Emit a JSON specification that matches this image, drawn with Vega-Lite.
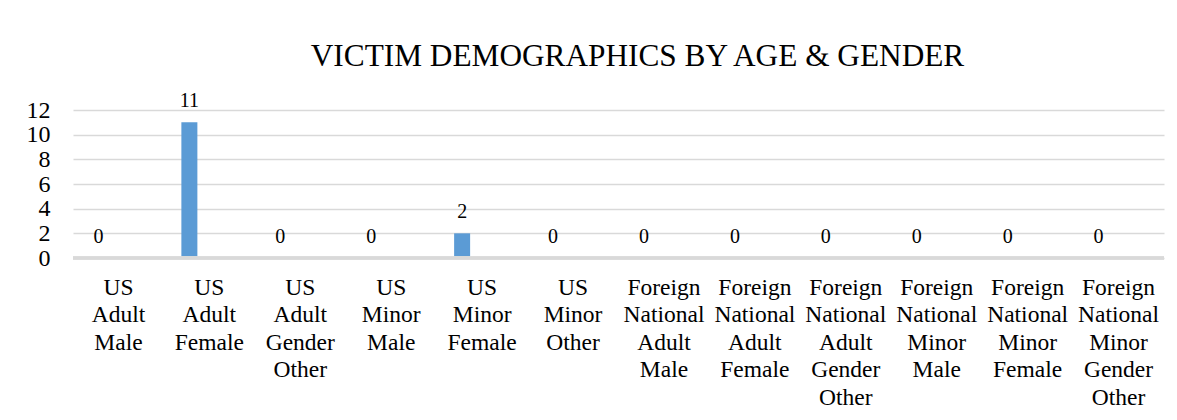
{
  "$schema": "https://vega.github.io/schema/vega-lite/v6.json",
  "width": 1091,
  "height": 148,
  "autosize": {"type": "none"},
  "padding": {"left": 73, "top": 110, "right": 13, "bottom": 162},
  "background": "white",
  "title": {
    "text": "VICTIM DEMOGRAPHICS BY AGE & GENDER",
    "font": "Liberation Serif",
    "fontSize": 31.3,
    "fontWeight": "normal",
    "color": "#000000",
    "anchor": "middle",
    "baseline": "alphabetic",
    "offset": -6,
    "dx": 19
  },
  "data": {
    "values": [
      {"category": "US Adult Male", "victims": 0},
      {"category": "US Adult Female", "victims": 11},
      {"category": "US Adult Gender Other", "victims": 0},
      {"category": "US Minor Male", "victims": 0},
      {"category": "US Minor Female", "victims": 2},
      {"category": "US Minor Other", "victims": 0},
      {"category": "Foreign National Adult Male", "victims": 0},
      {"category": "Foreign National Adult Female", "victims": 0},
      {"category": "Foreign National Adult Gender Other", "victims": 0},
      {"category": "Foreign National Minor Male", "victims": 0},
      {"category": "Foreign National Minor Female", "victims": 0},
      {"category": "Foreign National Minor Gender Other", "victims": 0}
    ]
  },
  "encoding": {
    "x": {
      "field": "category",
      "type": "nominal",
      "sort": null,
      "scale": {"paddingInner": 0, "paddingOuter": 0},
      "axis": {
        "title": null,
        "labelAngle": 0,
        "labelExpr": "split(datum.label, ' ')",
        "labelFont": "Liberation Serif",
        "labelFontSize": 23.5,
        "labelColor": "#000000",
        "labelLineHeight": 27.5,
        "labelBaseline": "top",
        "labelPadding": 17,
        "labelOverlap": false,
        "labelBound": false,
        "labelLimit": 0,
        "ticks": false,
        "tickSize": 0,
        "domain": false,
        "grid": false
      }
    },
    "y": {
      "field": "victims",
      "type": "quantitative",
      "scale": {"domain": [0, 12], "nice": false},
      "axis": {
        "title": null,
        "values": [0, 2, 4, 6, 8, 10, 12],
        "labelFont": "Liberation Serif",
        "labelFontSize": 24,
        "labelColor": "#000000",
        "labelPadding": 23,
        "ticks": false,
        "tickSize": 0,
        "domain": false,
        "grid": true,
        "gridColor": "#d9d9d9",
        "gridWidth": 1.3
      }
    }
  },
  "layer": [
    {
      "mark": {"type": "bar", "color": "#5b9bd5", "size": 16, "xOffset": -20}
    },
    {
      "mark": {"type": "rule", "color": "#d9d9d9", "strokeWidth": 2.5},
      "encoding": {"y": {"datum": 0}, "x": {}}
    },
    {
      "mark": {
        "type": "text",
        "font": "Liberation Serif",
        "fontSize": 20,
        "color": "#000000",
        "baseline": "alphabetic",
        "dy": -15,
        "xOffset": -20
      },
      "encoding": {"text": {"field": "victims", "type": "quantitative"}}
    }
  ],
  "config": {"view": {"stroke": null}}
}
